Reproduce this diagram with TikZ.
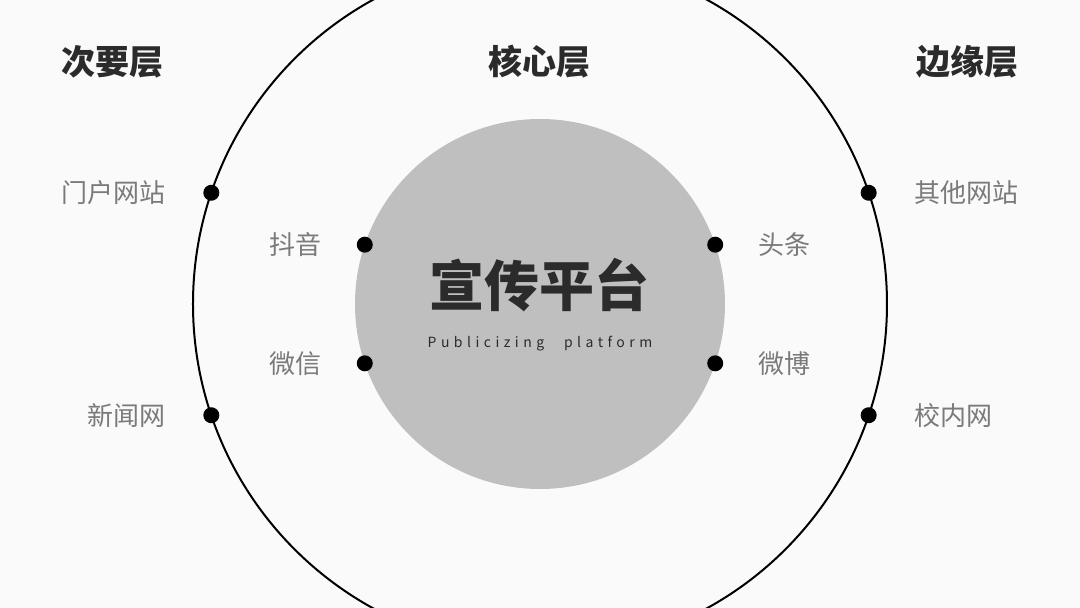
\documentclass[tikz,border=0pt]{standalone}
\usepackage{fontspec}
\newfontfamily\cjk{Noto Sans CJK SC}
\newfontfamily\spaced[LetterSpace=32, WordSpace=2.6]{Noto Sans CJK SC}
\usetikzlibrary{positioning}
\definecolor{bgcol}{HTML}{FAFAFA}
\definecolor{corecol}{HTML}{BFBFBF}
\definecolor{headcol}{HTML}{2B2B2B}
\definecolor{labelcol}{HTML}{7A7A7A}

\begin{document}
\begin{tikzpicture}[x=1pt, y=1pt, font=\cjk]

\tikzstyle{layer} = [font=\cjk\bfseries\fontsize{34}{38}\selectfont, text=headcol]
\tikzstyle{dot} = [circle, fill=black, inner sep=0pt, minimum size=16pt]
\tikzstyle{channel} = [font=\cjk\fontsize{26}{30}\selectfont, text=labelcol, inner sep=0pt]

% canvas
\useasboundingbox[fill=bgcol] (-540,-304) rectangle (540,304);
\clip (-540,-304) rectangle (540,304);

% circles
\node (outer)[circle, draw=black, line width=2pt, minimum size=694pt, inner sep=0pt] at (0,0){};
\node (core)[circle, fill=corecol, minimum size=370pt, inner sep=0pt] at (0,0){};

% titles
\node (title)[font=\cjk\bfseries\fontsize{55}{60}\selectfont, text=headcol] at (0,19){宣传平台};
\node (subtitle)[font=\spaced\fontsize{14}{16}\selectfont, text=headcol, below = 17pt of title]{Publicizing platform};

% headers
\node (second)[layer] at (-427,242){次要层};
\node (center)[layer] at (0,242){核心层};
\node (edge)[layer] at (427,242){边缘层};

% dots on outer circle
\node (d_portal)[dot] at (161.3:347pt){};
\node (d_news)[dot] at (198.7:347pt){};
\node (d_other)[dot] at (18.7:347pt){};
\node (d_campus)[dot] at (-18.7:347pt){};

% dots on core
\node (d_douyin)[dot] at (161.3:185pt){};
\node (d_wechat)[dot] at (198.7:185pt){};
\node (d_toutiao)[dot] at (18.7:185pt){};
\node (d_weibo)[dot] at (-18.7:185pt){};

% labels
\node (portal)[channel, left = 37pt of d_portal]{门户网站};
\node (news)[channel, left = 37pt of d_news]{新闻网};
\node (other)[channel, right = 37pt of d_other]{其他网站};
\node (campus)[channel, right = 37pt of d_campus]{校内网};

\node (douyin)[channel, left = 35pt of d_douyin]{抖音};
\node (wechat)[channel, left = 35pt of d_wechat]{微信};
\node (toutiao)[channel, right = 35pt of d_toutiao]{头条};
\node (weibo)[channel, right = 35pt of d_weibo]{微博};

\end{tikzpicture}
\end{document}
